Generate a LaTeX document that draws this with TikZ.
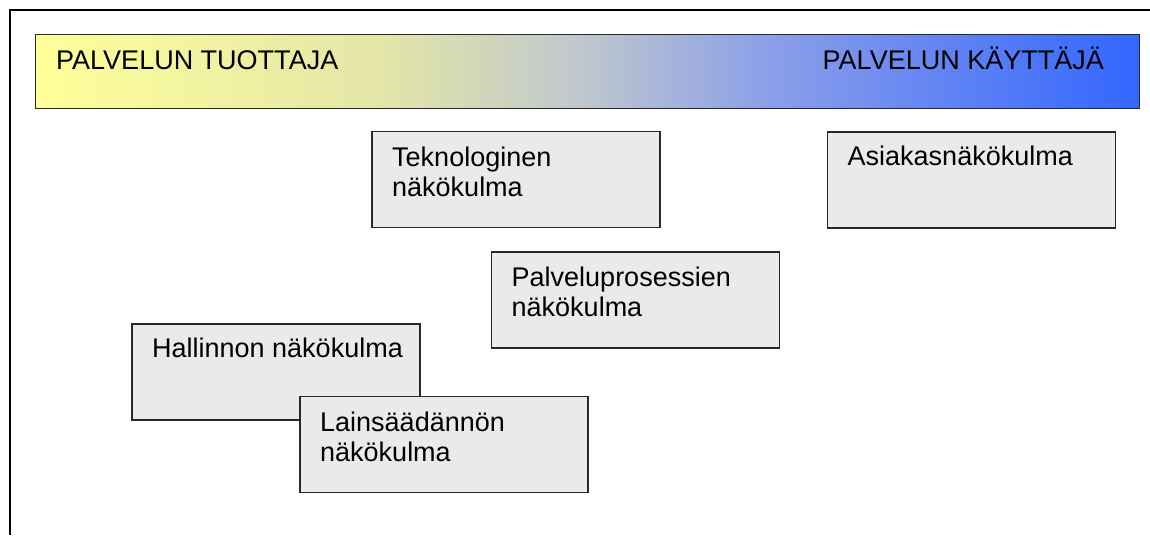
\documentclass[tikz,border=0pt]{standalone}
\usepackage{fontspec}
\setmainfont{Liberation Sans}
\definecolor{ptyellow}{RGB}{255,255,153}
\definecolor{ptsand}{RGB}{228,230,168}
\definecolor{ptgray}{RGB}{192,200,204}
\definecolor{ptlav}{RGB}{140,160,232}
\definecolor{ptblue}{RGB}{51,102,255}
\definecolor{boxfill}{RGB}{234,234,234}
\definecolor{boxline}{RGB}{40,40,40}
\usetikzlibrary{positioning}
\pgfdeclarehorizontalshading{tuottajakayttaja}{100bp}{color(0bp)=(ptyellow); color(25bp)=(ptyellow); color(40.5bp)=(ptsand); color(49.5bp)=(ptgray); color(58bp)=(ptlav); color(75bp)=(ptblue); color(100bp)=(ptblue)}

\begin{document}
\begin{tikzpicture}[x=1pt, y=-1pt,
    nkbox/.style={draw=boxline, fill=boxfill, line width=1.6pt, minimum width=288pt, minimum height=96pt, anchor=north west, inner sep=0pt},
    nktext/.style={align=left, inner sep=0pt, font=\fontsize{27}{30}\selectfont},
    hdrtext/.style={inner sep=0pt, font=\fontsize{27}{30}\selectfont}]
  \useasboundingbox (0,0) rectangle (1150,535);

  % frame
  \draw[line width=2pt] (1150,10) -- (9.5,10) -- (9.5,535);

  % producer -> user bar
  \node[draw=boxline, line width=1pt, shading=tuottajakayttaja, shade, minimum width=1104pt, minimum height=73pt, anchor=north west, inner sep=0pt] (hdr) at (34.5,34.5) {};
  \node[hdrtext, anchor=base west] (tuottaja) at (56,70) {PALVELUN TUOTTAJA};
  \node[hdrtext, anchor=base east] (kayttaja) at (1104,70) {PALVELUN KÄYTTÄJÄ};

  % viewpoints
  \node[nkbox] (tek) at (371,130.5) {};
  \node[nktext, below right=16pt and 21pt of tek.north west] (tekt) {Teknologinen\\näkökulma};

  \node[nkbox] (asiak) at (826.5,131) {};
  \node[nktext, below right=15pt and 21pt of asiak.north west] (asiakt) {Asiakasnäkökulma};

  \node[nkbox] (palv) at (490.5,251) {};
  \node[nktext, below right=16pt and 21pt of palv.north west] (palvt) {Palveluprosessien\\näkökulma};

  \node[nkbox] (hall) at (131,323) {};
  \node[nktext, below right=14.5pt and 21pt of hall.north west] (hallt) {Hallinnon näkökulma};

  \node[nkbox] (lain) at (299,395.5) {};
  \node[nktext, below right=16pt and 21pt of lain.north west] (laint) {Lainsäädännön\\näkökulma};
\end{tikzpicture}
\end{document}
